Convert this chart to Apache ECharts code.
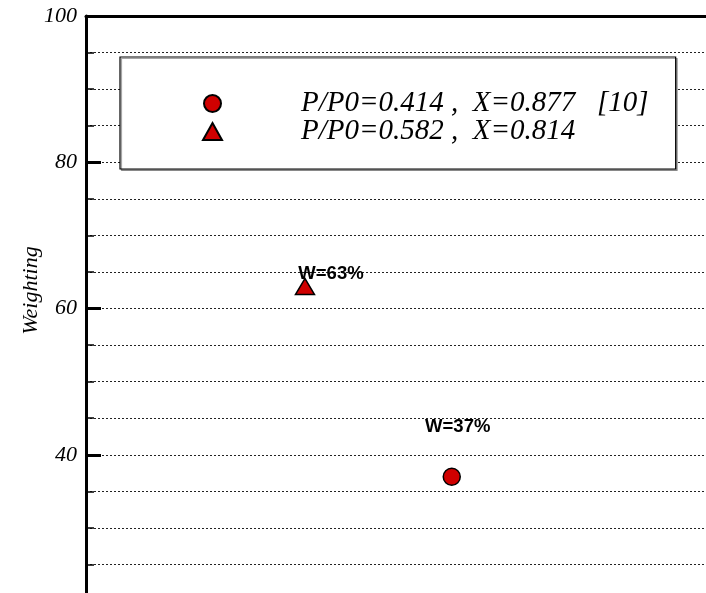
<!DOCTYPE html>
<html>
<head>
<meta charset="utf-8">
<script src="https://cdn.jsdelivr.net/npm/echarts@6/dist/echarts.min.js"></script>
<style>
  html, body { margin: 0; padding: 0; background: #fff; }
  #chart { width: 706px; height: 593px; }
</style>
</head>
<body>
<div id="chart"></div>
<script>
// Series names (legend entries)
const seriesNames = ['P/P0=0.414 ,  X=0.877   [10]', 'P/P0=0.582 ,  X=0.814'];
// Mass fraction X of each case (horizontal position)
const xValues = [0.877, 0.814];
// Weighting (%) of each case
const weightValues = [37, 63];
// Marker shape for each case
const markerShapes = ['circle', 'triangle'];
// Y axis range and tick step
const yMin = 20, yMax = 100, yStep = 20;

const serif = '"Liberation Serif", "DejaVu Serif", serif';
const sans = '"Liberation Sans", Arial, sans-serif';
const red = '#d00000';

// Per-case tweaks for marker size and label placement
const markerSizes = [[17, 17], [19, 16]];
const labelOffsets = [[6, -26], [26, 11]];

const chart = echarts.init(document.getElementById('chart'), null, { renderer: 'canvas' });

const series = seriesNames.map((name, i) => ({
  name: name,
  type: 'scatter',
  symbol: markerShapes[i],
  symbolSize: markerSizes[i],
  itemStyle: { color: red, borderColor: '#000', borderWidth: 1.5, opacity: 1 },
  label: {
    show: true,
    position: 'top',
    offset: labelOffsets[i],
    formatter: p => 'W=' + p.value[1] + '%',
    fontFamily: sans,
    fontWeight: 'bold',
    fontSize: 18.5,
    color: '#000'
  },
  emphasis: { disabled: true },
  data: [[xValues[i], weightValues[i]]]
}));

chart.setOption({
  animation: false,
  backgroundColor: '#fff',
  // plot frame runs past the right and bottom edges of the canvas
  grid: { left: 86, top: 16, width: 629, height: 585, outerBoundsMode: 'none' },
  legend: {
    orient: 'vertical',
    left: 120,
    top: 57,
    padding: [32, 27, 23, 82],
    itemWidth: 19,
    itemHeight: 17,
    itemGap: -1,
    backgroundColor: '#fff',
    borderColor: '#000',
    borderWidth: 1.2,
    shadowColor: 'rgba(0,0,0,0.35)',
    shadowOffsetX: 1.5,
    shadowOffsetY: 1.5,
    shadowBlur: 0,
    selectedMode: false,
    textStyle: {
      fontFamily: serif,
      fontStyle: 'italic',
      fontSize: 29,
      color: '#000',
      padding: [0, 0, 0, 74]
    },
    data: seriesNames
  },
  xAxis: {
    type: 'value',
    position: 'top',
    min: 0.72,
    max: 0.99,
    axisLine: { show: true, onZero: false, lineStyle: { color: '#000', width: 3 } },
    axisTick: { show: false },
    axisLabel: { show: false },
    splitLine: { show: false }
  },
  yAxis: {
    type: 'value',
    min: yMin,
    max: yMax,
    interval: yStep,
    name: 'Weighting',
    nameLocation: 'middle',
    nameGap: 44,
    nameMoveOverlap: false,
    nameRotate: 90,
    nameTextStyle: {
      fontFamily: serif,
      fontStyle: 'italic',
      fontSize: 22,
      color: '#000',
      padding: [0, 0, 0, 36]
    },
    axisLine: { show: true, lineStyle: { color: '#000', width: 3 } },
    axisTick: { show: true, inside: true, length: 15, lineStyle: { color: '#000', width: 3 } },
    minorTick: { show: true, splitNumber: 4, length: 8, lineStyle: { color: '#000', width: 1.5 } },
    axisLabel: {
      margin: 9,
      fontFamily: serif,
      fontStyle: 'italic',
      fontSize: 22,
      color: '#000',
      formatter: v => (v === yMin ? '' : String(v))
    },
    splitLine: { show: true, lineStyle: { color: '#222', width: 1, type: [2, 2] } },
    minorSplitLine: { show: true, lineStyle: { color: '#222', width: 1, type: [2, 2] } }
  },
  series: series
});
</script>
</body>
</html>
